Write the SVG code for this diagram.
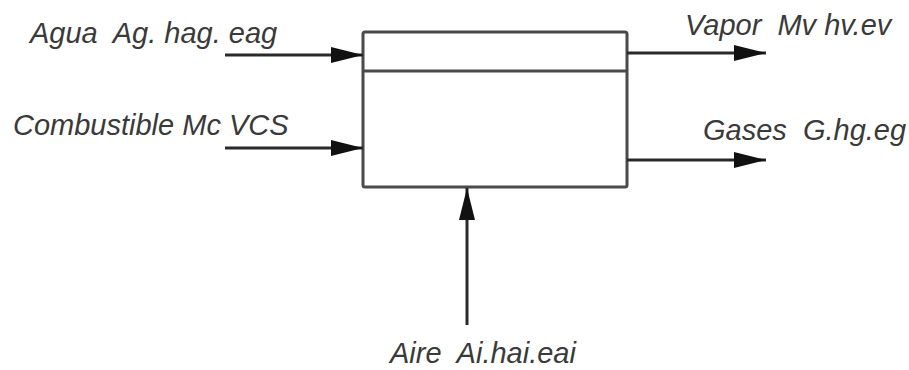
<svg xmlns="http://www.w3.org/2000/svg" width="909" height="370" viewBox="0 0 909 370">
<defs>
<style>
.t{font-family:"Liberation Sans",Arial,sans-serif;font-style:italic;font-size:29px;fill:#3a3a3a;white-space:pre}
.c{stroke:#2a2a2a;stroke-width:3;fill:none}
.b{stroke:#4a4a4a;stroke-width:3;fill:#fff}
</style>
<marker id="ah" markerUnits="userSpaceOnUse" markerWidth="32" markerHeight="20" viewBox="0 0 32 20" refX="32" refY="10" orient="auto">
<polygon points="0,2 32,10 0,18" fill="#111"/>
</marker>
</defs>
<rect width="909" height="370" fill="#fff"/>
<g id="caldera">
<rect class="b" x="363" y="32" width="264" height="155" rx="2"/>
<line class="b" x1="363" y1="71" x2="627" y2="71"/>
</g>
<g id="connectors">
<line class="c" x1="225" y1="55" x2="363" y2="55" marker-end="url(#ah)"/>
<line class="c" x1="225" y1="148" x2="363" y2="148" marker-end="url(#ah)"/>
<line class="c" x1="627" y1="53" x2="766" y2="53" marker-end="url(#ah)"/>
<line class="c" x1="627" y1="160" x2="766" y2="160" marker-end="url(#ah)"/>
<line class="c" x1="467" y1="325" x2="467" y2="188" marker-end="url(#ah)"/>
</g>
<g id="agua"><text class="t" x="30" y="43" xml:space="preserve">Agua  Ag. hag. eag</text></g>
<g id="combustible"><text class="t" x="13" y="135">Combustible Mc VCS</text></g>
<g id="vapor"><text class="t" x="685" y="35" xml:space="preserve">Vapor  Mv hv.ev</text></g>
<g id="gases"><text class="t" x="703" y="140" xml:space="preserve">Gases  G.hg.eg</text></g>
<g id="aire"><text class="t" x="390" y="363" xml:space="preserve">Aire  Ai.hai.eai</text></g>
</svg>
